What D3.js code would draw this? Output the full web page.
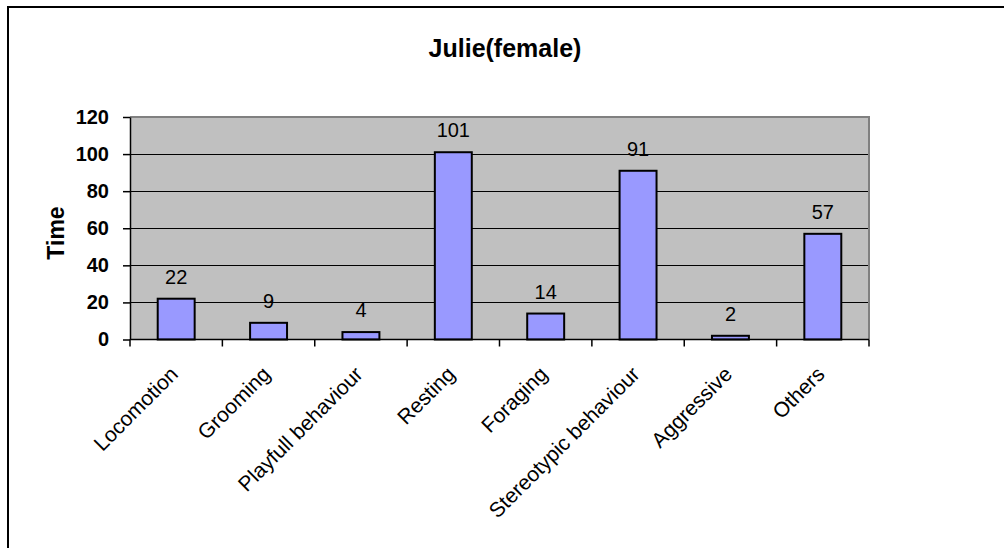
<!DOCTYPE html>
<html>
<head>
<meta charset="utf-8">
<script src="https://cdn.jsdelivr.net/npm/d3@7"></script>
<style>
  html, body { margin: 0; padding: 0; background: #fff; }
  svg { display: block; }
  text { font-family: "Liberation Sans", Arial, sans-serif; fill: #000; }
</style>
</head>
<body>
<svg id="chart" width="1004" height="548"></svg>
<script>
// Time spent per behaviour category
const categories = ["Locomotion", "Grooming", "Playfull behaviour", "Resting",
                    "Foraging", "Stereotypic behaviour", "Aggressive", "Others"];
const times = [22, 9, 4, 101, 14, 91, 2, 57];
const yTicks = [0, 20, 40, 60, 80, 100, 120];
const chartTitle = "Julie(female)";
const yTitle = "Time";

const W = 1004, H = 548;
const plot = { left: 130, top: 117, right: 869, bottom: 339.5 };

const svg = d3.select("#chart");

// outer chart frame
svg.append("rect")
  .attr("x", 8).attr("y", 7)
  .attr("width", W + 10).attr("height", H + 10)
  .attr("fill", "#fff").attr("stroke", "#000").attr("stroke-width", 2);

const x = d3.scaleBand()
  .domain(categories)
  .range([plot.left, plot.right])
  .paddingInner(0.6).paddingOuter(0.3);

const xBand = d3.scaleBand()
  .domain(categories)
  .range([plot.left, plot.right]);

const y = d3.scaleLinear().domain([0, 120]).range([plot.bottom, plot.top]);

// plot background
svg.append("rect")
  .attr("x", plot.left).attr("y", plot.top)
  .attr("width", plot.right - plot.left).attr("height", plot.bottom - plot.top)
  .attr("fill", "#c0c0c0");

// value labels
svg.append("g").selectAll("text")
  .data(categories)
  .join("text")
  .attr("x", d => xBand(d) + xBand.bandwidth() / 2)
  .attr("y", (d, i) => y(times[i]) - 15)
  .attr("text-anchor", "middle")
  .attr("font-size", 20)
  .text((d, i) => times[i]);

// horizontal gridlines
svg.append("g").selectAll("line")
  .data(yTicks.filter(t => t > 0 && t < 120))
  .join("line")
  .attr("x1", plot.left).attr("x2", plot.right)
  .attr("y1", d => Math.round(y(d)) + 0.5).attr("y2", d => Math.round(y(d)) + 0.5)
  .attr("stroke", "#000").attr("stroke-width", 1);

// plot border (top and right)
svg.append("path")
  .attr("d", `M${plot.left},${plot.top} H${plot.right} V${plot.bottom}`)
  .attr("fill", "none").attr("stroke", "#808080").attr("stroke-width", 2);

// bars
svg.append("g").selectAll("rect")
  .data(categories)
  .join("rect")
  .attr("x", d => x(d))
  .attr("y", (d, i) => y(times[i]))
  .attr("width", x.bandwidth())
  .attr("height", (d, i) => y(0) - y(times[i]))
  .attr("fill", "#9999ff")
  .attr("stroke", "#000").attr("stroke-width", 2);

// y axis
const yAxis = svg.append("g")
  .attr("transform", `translate(${plot.left},0)`)
  .call(d3.axisLeft(y).tickValues(yTicks).tickSize(7).tickPadding(14).tickSizeOuter(0));
yAxis.select(".domain").attr("stroke", "#000").attr("stroke-width", 1.5);
yAxis.selectAll(".tick line").attr("stroke", "#000").attr("stroke-width", 1.5);
yAxis.selectAll(".tick text")
  .attr("font-family", "Liberation Sans, Arial, sans-serif")
  .attr("font-size", 20).attr("font-weight", "bold").attr("fill", "#000");

// x axis with ticks at category boundaries
const xAxisG = svg.append("g").attr("transform", `translate(0,${plot.bottom})`);
xAxisG.append("line")
  .attr("x1", plot.left).attr("x2", plot.right)
  .attr("stroke", "#000").attr("stroke-width", 1.5);
xAxisG.selectAll("line.tk")
  .data(categories.concat(["__end"]))
  .join("line").attr("class", "tk")
  .attr("x1", (d, i) => plot.left + i * xBand.bandwidth())
  .attr("x2", (d, i) => plot.left + i * xBand.bandwidth())
  .attr("y1", 0).attr("y2", 7)
  .attr("stroke", "#000").attr("stroke-width", 1.5);

// rotated category labels
xAxisG.selectAll("text")
  .data(categories)
  .join("text")
  .attr("transform", d => `translate(${xBand(d) + xBand.bandwidth() / 2 + 3},${36}) rotate(-45)`)
  .attr("text-anchor", "end")
  .attr("font-size", 21)
  .text(d => d);

// chart title
svg.append("text")
  .attr("x", 505).attr("y", 57)
  .attr("text-anchor", "middle")
  .attr("font-size", 25).attr("font-weight", "bold")
  .text(chartTitle);

// y axis title
svg.append("text")
  .attr("transform", `translate(64,${233}) rotate(-90)`)
  .attr("text-anchor", "middle")
  .attr("font-size", 23).attr("font-weight", "bold")
  .text(yTitle);
</script>
</body>
</html>
